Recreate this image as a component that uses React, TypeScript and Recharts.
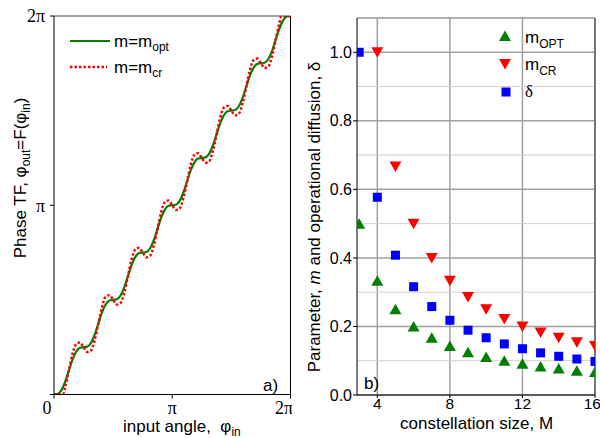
import {
  LineChart,
  Line,
  ScatterChart,
  Scatter,
  XAxis,
  YAxis,
  CartesianGrid,
  ReferenceLine,
} from 'recharts'

// panel a) — phase transfer function, angles in units of pi
const phaseIn = [
  0, 0.031, 0.063, 0.094, 0.125, 0.156, 0.188, 0.219,
  0.25, 0.281, 0.313, 0.344, 0.375, 0.406, 0.438, 0.469,
  0.5, 0.531, 0.563, 0.594, 0.625, 0.656, 0.688, 0.719,
  0.75, 0.781, 0.813, 0.844, 0.875, 0.906, 0.938, 0.969,
  1, 1.031, 1.063, 1.094, 1.125, 1.156, 1.188, 1.219,
  1.25, 1.281, 1.313, 1.344, 1.375, 1.406, 1.438, 1.469,
  1.5, 1.531, 1.563, 1.594, 1.625, 1.656, 1.688, 1.719,
  1.75, 1.781, 1.813, 1.844, 1.875, 1.906, 1.938, 1.969, 2,
]
const outOpt = [
  0, 0.003, 0.023, 0.066, 0.125, 0.184, 0.227, 0.247,
  0.25, 0.253, 0.273, 0.316, 0.375, 0.434, 0.477, 0.497,
  0.5, 0.503, 0.523, 0.566, 0.625, 0.684, 0.727, 0.747,
  0.75, 0.753, 0.773, 0.816, 0.875, 0.934, 0.977, 0.997,
  1, 1.003, 1.023, 1.066, 1.125, 1.184, 1.227, 1.247,
  1.25, 1.253, 1.273, 1.316, 1.375, 1.434, 1.477, 1.497,
  1.5, 1.503, 1.523, 1.566, 1.625, 1.684, 1.727, 1.747,
  1.75, 1.753, 1.773, 1.816, 1.875, 1.934, 1.977, 1.997, 2,
]
const phaseInCr = [
  0, 0.031, 0.063, 0.076, 0.094, 0.125, 0.156, 0.188, 0.219,
  0.25, 0.281, 0.313, 0.344, 0.375, 0.406, 0.438, 0.469,
  0.5, 0.531, 0.563, 0.594, 0.625, 0.656, 0.688, 0.719,
  0.75, 0.781, 0.813, 0.844, 0.875, 0.906, 0.938, 0.969,
  1, 1.031, 1.063, 1.094, 1.125, 1.156, 1.188, 1.219,
  1.25, 1.281, 1.313, 1.344, 1.375, 1.406, 1.438, 1.469,
  1.5, 1.531, 1.563, 1.594, 1.625, 1.656, 1.688, 1.719,
  1.75, 1.781, 1.813, 1.844, 1.875, 1.906, 1.924, 1.938, 1.969, 2,
]
const outCr = [
  0, 0, 0, 0, 0.038, 0.125, 0.213, 0.267, 0.275,
  0.25, 0.225, 0.233, 0.288, 0.375, 0.463, 0.517, 0.525,
  0.5, 0.475, 0.483, 0.538, 0.625, 0.713, 0.767, 0.775,
  0.75, 0.725, 0.733, 0.788, 0.875, 0.963, 1.017, 1.025,
  1, 0.975, 0.983, 1.038, 1.125, 1.213, 1.267, 1.275,
  1.25, 1.225, 1.233, 1.288, 1.375, 1.463, 1.517, 1.525,
  1.5, 1.475, 1.483, 1.538, 1.625, 1.713, 1.767, 1.775,
  1.75, 1.725, 1.733, 1.788, 1.875, 1.963, 2, 2, 2, 2,
]
const piTicks = [0, 1, 2]
const piLabels = ['0', 'π', '2π']

// panel b) — parameters vs constellation size
const sizeM = [3, 4, 5, 6, 7, 8, 9, 10, 11, 12, 13, 14, 15, 16]
const mOpt = [0.5, 0.333, 0.25, 0.2, 0.167, 0.143, 0.125, 0.111, 0.1, 0.091, 0.083, 0.077, 0.071, 0.067]
const sizeMCr = [4, 5, 6, 7, 8, 9, 10, 11, 12, 13, 14, 15, 16]
const mCr = [1.0, 0.667, 0.5, 0.4, 0.333, 0.286, 0.25, 0.222, 0.2, 0.182, 0.167, 0.154, 0.143]
const delta = [1.0, 0.577, 0.408, 0.316, 0.258, 0.218, 0.189, 0.167, 0.149, 0.135, 0.123, 0.113, 0.105, 0.098]
const mTicks = [4, 8, 12, 16]
const majorTicks = [0, 0.2, 0.4, 0.6, 0.8, 1.0]
const minorTicks = [0.1, 0.3, 0.5, 0.7, 0.9]

const SANS = '"Liberation Sans", Arial, sans-serif'
const SERIF = '"Liberation Serif", "Times New Roman", serif'
const GREEN = '#008000'
const RED = '#ff0000'
const BLUE = '#0000ff'

const optData = phaseIn.map((x, i) => ({ x, y: outOpt[i] }))
const crData = phaseInCr.map((x, i) => ({ x, y: outCr[i] }))
const optPts = sizeM.map((M, i) => ({ M, v: mOpt[i] }))
const crPts = sizeMCr.map((M, i) => ({ M, v: mCr[i] }))
const deltaPts = sizeM.map((M, i) => ({ M, v: delta[i] }))

const piFmt = (v: number) => piLabels[piTicks.indexOf(v)] ?? ''

// x labels of panel a) sit a little left of their ticks in the original
const PiTick = (p: any) => {
  const v = p.payload.value
  const shift = v === 0 ? -7 : v === 2 ? -4 : 0
  return (
    <text
      x={p.x + shift}
      y={p.y}
      dy="0.71em"
      textAnchor="middle"
      fontFamily={SERIF}
      fontSize={18}
      fill="#000"
    >
      {piFmt(v)}
    </text>
  )
}

const UpTri = (p: any) => (
  <polygon
    points={`${p.cx - 6},${p.cy + 5} ${p.cx + 6},${p.cy + 5} ${p.cx},${p.cy - 5.5}`}
    fill={GREEN}
  />
)
const DownTri = (p: any) => (
  <polygon
    points={`${p.cx - 6},${p.cy - 5} ${p.cx + 6},${p.cy - 5} ${p.cx},${p.cy + 5.5}`}
    fill={RED}
  />
)
const Square = (p: any) => <rect x={p.cx - 4.5} y={p.cy - 4.5} width={9} height={9} fill={BLUE} />

function Overlay() {
  const sub = { fontSize: 12 }
  return (
    <svg
      width={600}
      height={438}
      style={{ position: 'absolute', left: 0, top: 0, pointerEvents: 'none' }}
      fontFamily={SANS}
      fontSize={17}
      fill="#000"
    >
      {/* panel a) titles */}
      <text x={26} y={178} textAnchor="middle" transform="rotate(-90 26 178)">
        Phase TF, φ<tspan dy={4} {...sub}>out</tspan>
        <tspan dy={-4}>=F(φ</tspan>
        <tspan dy={4} {...sub}>in</tspan>
        <tspan dy={-4}>)</tspan>
      </text>
      <text x={123} y={432} style={{ whiteSpace: 'pre' }}>
        {'input angle,  φ'}
        <tspan dy={4} {...sub}>in</tspan>
      </text>
      <text x={263} y={391}>a)</text>

      {/* panel a) legend */}
      <line x1={70} x2={110} y1={41} y2={41} stroke={GREEN} strokeWidth={2.2} />
      <text x={114} y={47}>
        m=m<tspan dy={4} {...sub}>opt</tspan>
      </text>
      <line x1={70} x2={107} y1={67} y2={67} stroke={RED} strokeWidth={2.5} strokeDasharray="2.5 2" />
      <text x={114} y={73}>
        m=m<tspan dy={4} {...sub}>cr</tspan>
      </text>

      {/* panel b) titles */}
      <text x={320} y={217} textAnchor="middle" transform="rotate(-90 320 217)">
        Parameter, <tspan fontStyle="italic">m</tspan> and operational diffusion, δ
      </text>
      <text x={400} y={429}>constellation size, M</text>
      <text x={364} y={389}>b)</text>

      {/* panel b) legend */}
      <UpTri cx={505} cy={36} />
      <text x={525} y={43}>
        m<tspan dy={5} {...sub}>OPT</tspan>
      </text>
      <DownTri cx={505} cy={64} />
      <text x={525} y={70}>
        m<tspan dy={5} {...sub}>CR</tspan>
      </text>
      <Square cx={506} cy={92} />
      <text x={525} y={97} fontFamily={SERIF}>δ</text>
    </svg>
  )
}

export default function App() {
  return (
    <div style={{ position: 'absolute', left: 0, top: 0, width: 600, height: 438, background: '#fff' }}>
      <div style={{ position: 'absolute', left: 0, top: 0 }}>
        <LineChart width={292} height={438} margin={{ top: 16, right: 1.5, bottom: 0, left: 0 }}>
          <XAxis
            type="number"
            dataKey="x"
            domain={[0, 2]}
            ticks={piTicks}
            allowDataOverflow
            height={43.5}
            tickSize={4}
            tickMargin={3}
            stroke="#000"
            tick={PiTick}
          />
          <YAxis
            type="number"
            domain={[0, 2]}
            ticks={[0, 1, 2]}
            tickFormatter={(v: number) => (v === 0 ? '' : piFmt(v))}
            allowDataOverflow
            width={54}
            tickSize={4}
            tickMargin={5}
            stroke="#000"
            tick={{ fontFamily: SERIF, fontSize: 18, fill: '#000' }}
          />
          <ReferenceLine y={2} stroke="#444" />
          <ReferenceLine x={2} stroke="#000" />
          <Line
            data={optData}
            dataKey="y"
            type="monotone"
            stroke={GREEN}
            strokeWidth={2.2}
            dot={false}
            isAnimationActive={false}
          />
          <Line
            data={crData}
            dataKey="y"
            type="monotone"
            stroke={RED}
            strokeWidth={2.5}
            strokeDasharray="2.5 2"
            dot={false}
            isAnimationActive={false}
          />
        </LineChart>
      </div>
      <div style={{ position: 'absolute', left: 290, top: 0 }}>
        <ScatterChart width={310} height={438} margin={{ top: 18, right: 5, bottom: 0, left: 0 }}>
          <CartesianGrid
            stroke="#a0a0a0"
            strokeWidth={1.5}
            horizontalValues={majorTicks}
            verticalValues={mTicks}
          />
          {minorTicks.map((t) => (
            <ReferenceLine key={t} y={t} stroke="#d0d0d0" />
          ))}
          <ReferenceLine y={1.1} stroke="#999" strokeWidth={1.5} />
          <ReferenceLine x={16} stroke="#777" strokeWidth={2} />
          <XAxis
            type="number"
            dataKey="M"
            domain={[2.88, 16]}
            ticks={mTicks}
            allowDataOverflow
            height={43}
            tickSize={3}
            tickMargin={0}
            stroke="#000"
            tick={{ fontFamily: SANS, fontSize: 15.5, fill: '#000' }}
          />
          <YAxis
            type="number"
            dataKey="v"
            domain={[0, 1.1]}
            ticks={majorTicks}
            tickFormatter={(v: number) => v.toFixed(1)}
            allowDataOverflow
            width={67}
            tickSize={4}
            tickMargin={1}
            stroke="#000"
            tick={{ fontFamily: SANS, fontSize: 16, fill: '#000' }}
          />
          <Scatter data={optPts} shape={UpTri} isAnimationActive={false} />
          <Scatter data={crPts} shape={DownTri} isAnimationActive={false} />
          <Scatter data={deltaPts} shape={Square} isAnimationActive={false} />
        </ScatterChart>
      </div>
      <Overlay />
    </div>
  )
}
